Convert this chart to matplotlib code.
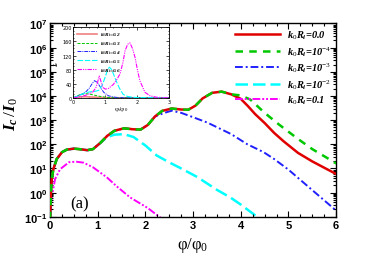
import numpy as np
import matplotlib
matplotlib.use("Agg")
import matplotlib.pyplot as plt
from matplotlib.ticker import LogLocator, MultipleLocator, NullFormatter

plt.rcParams['mathtext.fontset'] = 'custom'
plt.rcParams['mathtext.rm'] = 'Liberation Serif'
plt.rcParams['mathtext.it'] = 'Liberation Serif:italic:bold'
plt.rcParams['mathtext.bf'] = 'Liberation Serif:italic:bold'

# ---- main panel data (phi/phi0, Ic/I0) ----
red_phi = [0.0, 0.02, 0.036, 0.07, 0.14, 0.25, 0.35, 0.5, 0.65, 0.78, 0.9, 1.05, 1.2, 1.35,
           1.55, 1.75, 1.9, 2.05, 2.2, 2.35, 2.55, 2.75, 2.9, 3.05, 3.2, 3.4, 3.6, 3.8,
           4.0, 4.15, 4.3, 4.5, 4.7, 4.9, 5.2, 5.5, 5.8, 6.0]
red_val = [0.08, 1.0, 3.6, 9.5, 24.5, 47, 60, 66, 62, 57, 63, 112, 224, 363,
           457, 417, 407, 631, 1410, 2400, 3020, 2750, 2690, 3980, 7940, 13500, 15100, 11700,
           7600, 3800, 1780, 760, 295, 132, 44, 19.5, 9.5, 5.9]

green_phi = [3.8, 4.0, 4.2, 4.5, 4.8, 5.2, 5.5, 5.8, 6.0]
green_val = [11700, 10500, 7100, 2000, 660, 166, 63, 28, 16]

blue_phi = [2.2, 2.4, 2.55, 2.75, 3.0, 3.3, 3.8, 4.13, 4.48, 4.7, 5.0, 5.43, 6.0]
blue_val = [1410, 2000, 2450, 2000, 1320, 790, 263, 102, 47, 24.5, 8.9, 1.66, 0.18]

cyan_phi = [1.05, 1.2, 1.35, 1.55, 1.75, 2.0, 2.24, 2.5, 2.75, 3.08, 3.5, 3.78, 4.0, 4.34, 4.5]
cyan_val = [112, 200, 250, 263, 200, 89, 34, 17.8, 10, 4.5, 1.3, 0.63, 0.32, 0.1, 0.063]

mag_phi = [0.0, 0.02, 0.036, 0.105, 0.21, 0.4, 0.55, 0.7, 0.9, 1.19, 1.4, 1.68, 2.05, 2.29, 2.4]
mag_val = [0.08, 0.3, 0.66, 3.6, 9.3, 18.2, 19, 17.4, 11.2, 4.3, 1.8, 0.63, 0.23, 0.1, 0.07]

labels = [r'$k_0R_i$=0.0', r'$k_0R_i$=10$^{-4}$', r'$k_0R_i$=10$^{-3}$',
          r'$k_0R_i$=10$^{-2}$', r'$k_0R_i$=0.1']

# ---- inset data (phi/phi0, Ic) ----
in_labels = [r'$k_0R_i$=0.2', r'$k_0R_i$=0.3', r'$k_0R_i$=0.4', r'$k_0R_i$=0.5', r'$k_0R_i$=0.6']
in_phi_02 = [0, 0.1, 0.2, 0.35, 0.5, 0.7, 0.9, 1.2, 3.0]
in_val_02 = [0, 2, 3, 3.5, 3, 2, 1, 0.5, 0]
in_phi_03 = [0, 0.1, 0.2, 0.3, 0.4, 0.5, 0.6, 0.8, 1.0, 1.3, 3.0]
in_val_03 = [0, 5, 9, 11, 12, 11, 9, 5, 2, 0.5, 0]
in_phi_04 = [0, 0.1, 0.2, 0.3, 0.4, 0.5, 0.6, 0.66, 0.75, 0.85, 0.95, 1.1, 1.3, 1.5, 3.0]
in_val_04 = [0, 4, 8, 12, 18, 28, 42, 49, 44, 30, 16, 6, 2, 0.5, 0]
in_phi_05 = [0, 0.1, 0.2, 0.3, 0.4, 0.5, 0.6, 0.7, 0.8, 0.9, 1.0, 1.08, 1.13, 1.2, 1.28,
             1.36, 1.45, 1.56, 1.7, 1.85, 2.0, 3.0]
in_val_05 = [0, 4, 8, 12, 15, 17, 18, 19, 22, 35, 60, 82, 87, 80, 62, 44, 26, 10, 4, 2, 1, 0]
in_phi_06 = [0, 0.2, 0.4, 0.6, 0.7, 0.76, 0.81, 0.86, 0.92, 1.0, 1.1, 1.25, 1.36, 1.46, 1.55,
             1.62, 1.7, 1.77, 1.85, 1.93, 2.0, 2.08, 2.24, 2.4, 2.6, 3.0]
in_val_06 = [0, 3, 8, 16, 28, 45, 62, 48, 30, 25, 27, 38, 52, 68, 100,
             134, 152, 156, 140, 115, 82, 49, 16, 6, 2, 0]

fig = plt.figure(figsize=(3.82, 2.55), dpi=100)
ax = fig.add_axes([0.131, 0.146, 0.749, 0.758])

# red / green / blue / cyan share the low-phi part of the red curve
n_g = red_phi.index(3.8)
n_b = red_phi.index(2.2)
n_c = red_phi.index(1.05)
ax.plot(red_phi, red_val, color='#e00000', lw=1.8, label=labels[0], zorder=3)
ax.plot(red_phi[:n_g] + green_phi, red_val[:n_g] + green_val, color='#00c800', lw=1.8,
        ls=(0, (3, 2.5)), label=labels[1], zorder=4)
ax.plot(red_phi[:n_b] + blue_phi, red_val[:n_b] + blue_val, color='#2020ff', lw=1.4,
        ls=(0, (4, 1.5, 1, 1.5)), label=labels[2], zorder=2)
ax.plot(red_phi[:n_c] + cyan_phi, red_val[:n_c] + cyan_val, color='#00ffff', lw=1.8,
        ls=(0, (5, 2)), label=labels[3], zorder=1)
ax.plot(mag_phi, mag_val, color='#ff00ff', lw=1.4, ls=(0, (4, 1, 1, 1, 1, 1)),
        label=labels[4], zorder=1)

ax.set_yscale('log')
ax.set_xlim(0, 6)
ax.set_ylim(0.1, 1e7)
ax.xaxis.set_major_locator(MultipleLocator(1))
ax.xaxis.set_minor_locator(MultipleLocator(0.25))
ax.yaxis.set_major_locator(LogLocator(base=10, numticks=20))
ax.yaxis.set_minor_locator(LogLocator(base=10, subs=np.arange(2, 10), numticks=20))
ax.yaxis.set_minor_formatter(NullFormatter())
ax.tick_params(which='both', direction='in', top=True, right=True, width=0.8)
ax.tick_params(which='major', length=4, labelsize=8, pad=2)
ax.tick_params(which='minor', length=2)
for t in ax.get_xticklabels() + ax.get_yticklabels():
    t.set_fontweight('bold')
    t.set_family('Liberation Sans')
for s in ax.spines.values():
    s.set_linewidth(1.0)

ax.set_xlabel('φ/φ$_\\mathrm{0}$', family='Liberation Serif', fontsize=12)
ax.xaxis.set_label_coords(0.5, -0.095)
ax.set_ylabel(r'$I_c\,/I_0$', fontsize=12.5)
ax.yaxis.set_label_coords(-0.105, 0.537)
ax.text(0.07, 0.07, '(a)', transform=ax.transAxes, family='Liberation Serif',
        fontsize=12, va='center', ha='left')

leg = ax.legend(loc='upper right', frameon=False, handlelength=4.4,
                labelspacing=0.25, borderaxespad=0.2, borderpad=0.3, handletextpad=0.6,
                prop={'family': 'Liberation Serif', 'weight': 'bold', 'style': 'italic',
                      'size': 7.5})

# ---- inset ----
ins = fig.add_axes([0.192, 0.612, 0.251, 0.277])
ins.plot(in_phi_02, in_val_02, color='#f08080', lw=1.2, label=in_labels[0])
ins.plot(in_phi_03, in_val_03, color='#00c800', lw=0.7, ls=(0, (3, 1.5)), label=in_labels[1])
ins.plot(in_phi_04, in_val_04, color='#2020ff', lw=0.7, ls=(0, (4, 1, 1, 1)), label=in_labels[2])
ins.plot(in_phi_05, in_val_05, color='#00ffff', lw=0.8, ls=(0, (5, 1.5)), label=in_labels[3])
ins.plot(in_phi_06, in_val_06, color='#ff00ff', lw=0.8, ls=(0, (4, 1, 1, 1, 1, 1)),
         label=in_labels[4])
ins.set_xlim(0, 3)
ins.set_ylim(0, 200)
ins.xaxis.set_major_locator(MultipleLocator(1))
ins.xaxis.set_minor_locator(MultipleLocator(0.25))
ins.yaxis.set_major_locator(MultipleLocator(40))
ins.yaxis.set_minor_locator(MultipleLocator(10))
ins.tick_params(which='both', direction='in', top=True, right=True, width=0.5,
                labelsize=3.5, pad=1)
ins.tick_params(which='major', length=2)
ins.tick_params(which='minor', length=1)
for s in ins.spines.values():
    s.set_linewidth(0.6)
ins.set_xlabel('φ/φ$_\\mathrm{0}$', family='Liberation Serif', fontsize=5, labelpad=0)
ins.set_ylabel(r'$I_c$', fontsize=5, labelpad=1)
ins.legend(loc='upper left', frameon=False, handlelength=3.9, labelspacing=0.25,
           borderaxespad=0.2, handletextpad=0.6,
           prop={'family': 'Liberation Serif', 'weight': 'bold', 'style': 'italic', 'size': 3.8})

fig.savefig('out.png', dpi=100)
